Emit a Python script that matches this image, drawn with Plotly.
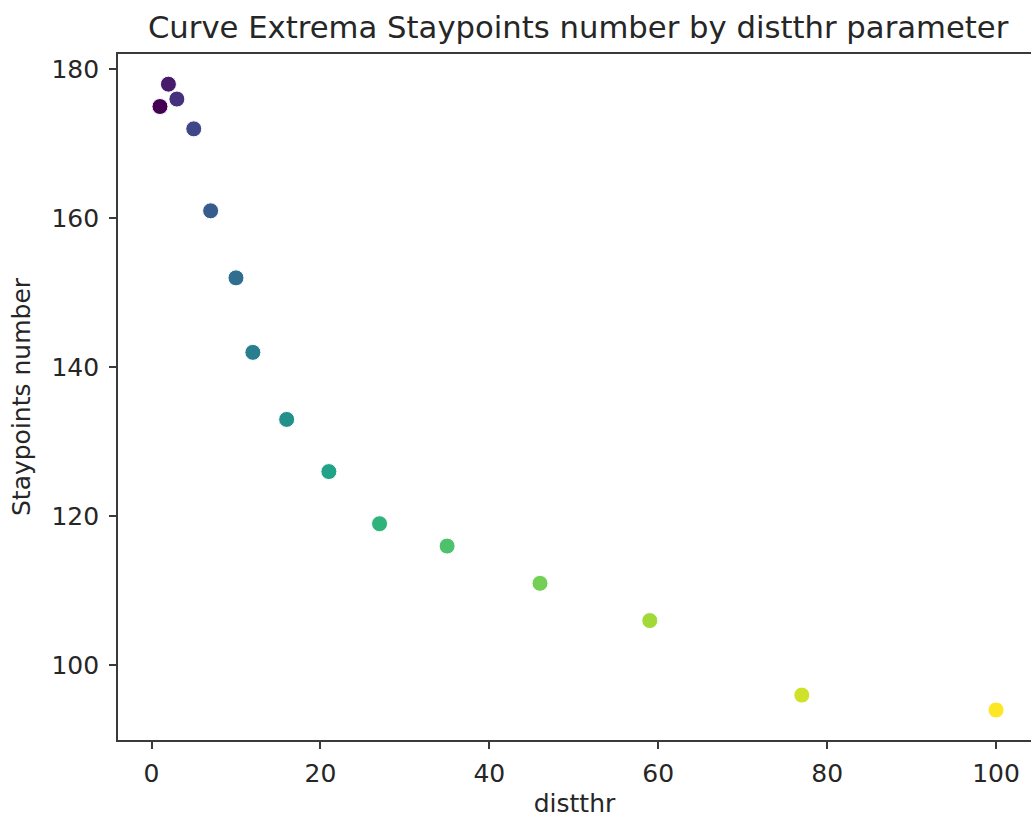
import plotly.graph_objects as go

distthr = [1, 2, 3, 5, 7, 10, 12, 16, 21, 27, 35, 46, 59, 77, 100]
staypoints = [175, 178, 176, 172, 161, 152, 142, 133, 126, 119, 116, 111, 106, 96, 94]
x_ticks = [0, 20, 40, 60, 80, 100]
y_ticks = [100, 120, 140, 160, 180]

order = list(range(len(distthr)))

fig = go.Figure()
fig.add_trace(go.Scatter(
    x=distthr, y=staypoints, mode="markers",
    marker=dict(size=16, color=order, colorscale="Viridis", cmin=0, cmax=len(order) - 1,
                line=dict(color="white", width=1)),
    showlegend=False,
))

font_family = "DejaVu Sans"
axis_common = dict(
    showline=True, linecolor="#3a3a3a", linewidth=1.6,
    ticks="outside", ticklen=7, tickwidth=1.6, tickcolor="#3a3a3a",
    showgrid=False, zeroline=False,
    tickfont=dict(family=font_family, size=25, color="#262626"),
)

fig.update_layout(
    width=1031, height=818,
    margin=dict(l=118, r=0, t=54, b=78),
    paper_bgcolor="white", plot_bgcolor="white",
    font=dict(family=font_family, color="#262626"),
    title=dict(text="Curve Extrema Staypoints number by distthr parameter",
               x=0.504, xref="paper", xanchor="center",
               y=1 - 27 / 818, yref="container", yanchor="middle",
               font=dict(family=font_family, size=30.7, color="#262626")),
    xaxis=dict(range=[-3.97, 104.14], tickvals=x_ticks, mirror=True,
               ticklabelstandoff=3,
               title=dict(text="distthr", font=dict(family=font_family, size=25, color="#262626"),
                          standoff=8),
               **axis_common),
    yaxis=dict(range=[89.97, 182.05], tickvals=y_ticks, mirror=False,
               ticklabelstandoff=5,
               title=dict(text="Staypoints number", font=dict(family=font_family, size=25, color="#262626"),
                          standoff=14),
               **axis_common),
)

fig.write_html("out.html")
